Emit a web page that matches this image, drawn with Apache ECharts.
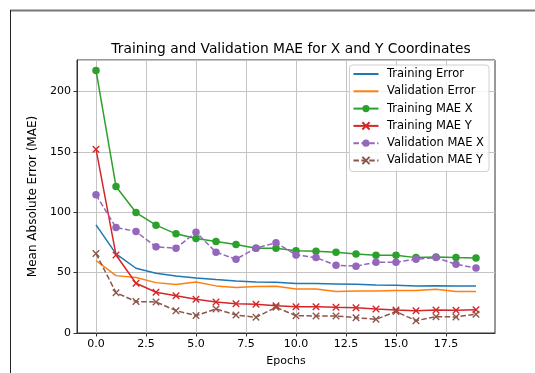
<!DOCTYPE html>
<html>
<head>
<meta charset="utf-8">
<script src="https://cdn.jsdelivr.net/npm/echarts@6/dist/echarts.min.js"></script>
<style>
html,body{margin:0;padding:0;background:#fff;}
#c{width:535px;height:373px;}
</style>
</head>
<body>
<div id="c"></div>
<script>
const epochs = [0,1,2,3,4,5,6,7,8,9,10,11,12,13,14,15,16,17,18,19];
const trainingError = [89.5,65.5,53.6,49.5,47.2,45.6,44.2,43.1,42.3,42.0,40.9,40.9,40.6,40.3,39.8,39.5,39.0,39.2,39.0,39.0];
const validationError = [60.0,47.5,45.9,41.7,40.1,42.3,39.0,37.6,38.4,38.7,36.5,36.4,34.3,34.8,34.8,35.1,35.1,36.2,34.3,34.3];
const trainingMaeX = [217.4,121.3,99.7,89.3,82.1,78.2,75.7,73.2,70.2,70.2,68.0,67.7,66.9,65.5,64.4,64.4,62.4,62.9,62.4,62.1];
const trainingMaeY = [152.2,64.6,41.2,33.7,30.9,27.9,25.7,24.3,23.8,22.6,21.8,21.8,21.3,21.0,19.9,19.1,18.5,19.1,18.8,19.3];
const validationMaeX = [114.4,87.3,84.0,71.3,70.2,83.4,66.9,61.1,70.2,74.8,64.6,62.4,56.1,55.3,58.6,58.6,61.1,62.4,56.9,53.9];
const validationMaeY = [65.8,33.4,26.0,25.7,18.5,14.4,19.9,14.9,13.0,21.3,14.3,14.1,14.1,12.7,11.3,17.7,10.2,13.5,13.3,15.5];
const xTicks = [0,2.5,5,7.5,10,12.5,15,17.5];
const names = ['Training Error','Validation Error','Training MAE X','Training MAE Y','Validation MAE X','Validation MAE Y'];

const pair = arr => arr.map((v,i)=>[epochs[i], v]);
const font = 'DejaVu Sans';
const cross = 'path://M0,0L10,10M0,10L10,0';
const plainLine = 'path://M0,0L25,0L25,2L0,2Z';

function mk(name, data, color, opts) {
  opts = opts || {};
  const s = {
    name: name, type: 'line', data: pair(data),
    lineStyle: {color: color, width: 1.5, type: opts.dashed ? [5.5,2.4] : 'solid'},
    itemStyle: {color: color},
    symbol: 'none', showSymbol: false
  };
  if (opts.marker === 'o') {
    s.symbol = 'circle'; s.showSymbol = true; s.symbolSize = 7.5;
  } else if (opts.marker === 'x') {
    s.symbol = cross; s.showSymbol = true; s.symbolSize = 6.5;
    s.itemStyle = {color: color, borderColor: color, borderWidth: 1.4};
  }
  return s;
}

const legendData = names.map((n, i) => i < 2 ? {name: n, icon: plainLine} : {name: n});

const chart = echarts.init(document.getElementById('c'), null, {renderer: 'canvas'});
chart.setOption({
  animation: false,
  backgroundColor: '#fff',
  title: {
    text: 'Training and Validation MAE for X and Y Coordinates',
    left: 286, top: 37, textAlign: 'center',
    textStyle: {fontFamily: font, fontSize: 13.8, fontWeight: 'normal', color: '#000'}
  },
  grid: {left: 77, right: 40, top: 60, bottom: 40, show: true, borderColor: '#333', borderWidth: 1, backgroundColor: 'transparent'},
  legend: {
    orient: 'vertical', right: 46, top: 65,
    data: legendData,
    itemWidth: 25, itemHeight: 9, itemGap: 3.3,
    padding: [2, 5, 4, 3],
    borderColor: '#d0d0d0', borderWidth: 1, borderRadius: 3,
    backgroundColor: 'rgba(255,255,255,0.85)',
    textStyle: {fontFamily: font, fontSize: 11.5, color: '#000', lineHeight: 14, padding: [0, 0, 0, 3.5]}
  },
  xAxis: {
    type: 'value', min: -0.95, max: 19.95,
    name: 'Epochs', nameLocation: 'middle', nameGap: 23,
    nameTextStyle: {fontFamily: font, fontSize: 11, color: '#000'},
    axisLine: {show: true, onZero: false, lineStyle: {color: '#333'}},
    axisTick: {show: true, length: 3.5, customValues: xTicks, lineStyle: {color: '#333'}},
    axisLabel: {customValues: xTicks, fontFamily: font, fontSize: 11, color: '#000', margin: 6,
      formatter: v => Number(v).toFixed(1)},
    splitLine: {show: true, customValues: xTicks, lineStyle: {color: '#c4c4c4', width: 1}}
  },
  yAxis: {
    type: 'value', min: 0, max: 226, interval: 50,
    name: 'Mean Absolute Error (MAE)', nameLocation: 'middle', nameGap: 38,
    nameTextStyle: {fontFamily: font, fontSize: 12, color: '#000'},
    axisLine: {show: true, onZero: false, lineStyle: {color: '#333'}},
    axisTick: {show: true, length: 3.5, lineStyle: {color: '#333'}},
    axisLabel: {fontFamily: font, fontSize: 11, color: '#000', margin: 6, showMaxLabel: false},
    splitLine: {show: true, lineStyle: {color: '#c4c4c4', width: 1}}
  },
  graphic: [
    {type: 'line', shape: {x1: 10, y1: 10.5, x2: 535, y2: 10.5}, style: {stroke: '#777', lineWidth: 2}, silent: true},
    {type: 'line', shape: {x1: 10.5, y1: 10, x2: 10.5, y2: 373}, style: {stroke: '#222', lineWidth: 1}, silent: true}
  ],
  series: [
    mk(names[0], trainingError, '#1f77b4'),
    mk(names[1], validationError, '#ff7f0e'),
    mk(names[2], trainingMaeX, '#2ca02c', {marker: 'o'}),
    mk(names[3], trainingMaeY, '#d62728', {marker: 'x'}),
    mk(names[4], validationMaeX, '#9467bd', {marker: 'o', dashed: true}),
    mk(names[5], validationMaeY, '#8c564b', {marker: 'x', dashed: true})
  ]
});
</script>
</body>
</html>
